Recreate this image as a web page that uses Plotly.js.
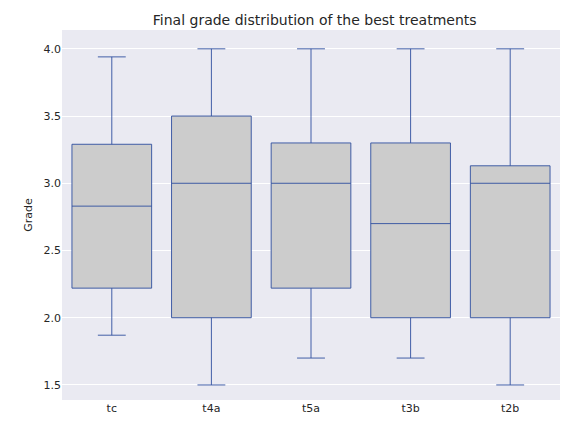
<!DOCTYPE html>
<html>
<head>
<script src="https://cdn.plot.ly/plotly-3.0.1.min.js"></script>
<style>body{margin:0}</style>
</head>
<body>
<div id="chart" style="width:567px;height:435px"></div>
<script>
var treatments = ["tc", "t4a", "t5a", "t3b", "t2b"];
var lowerWhisker = [1.87, 1.5, 1.7, 1.7, 1.5];
var q1 = [2.22, 2.0, 2.22, 2.0, 2.0];
var median = [2.83, 3.0, 3.0, 2.7, 3.0];
var q3 = [3.29, 3.5, 3.3, 3.3, 3.13];
var upperWhisker = [3.94, 4.0, 4.0, 4.0, 4.0];

var trace = {
  type: "box",
  x: treatments,
  q1: q1,
  median: median,
  q3: q3,
  lowerfence: lowerWhisker,
  upperfence: upperWhisker,
  width: 0.8,
  fillcolor: "#cccccc",
  line: {color: "#2f4f9f", width: 0.9},
  whiskerwidth: 0.35,
  boxpoints: false,
  hoverinfo: "none"
};

var layout = {
  width: 567, height: 435,
  margin: {l: 62, r: 7, t: 30, b: 35},
  paper_bgcolor: "white",
  plot_bgcolor: "#eaeaf2",
  font: {family: "DejaVu Sans", color: "#262626", size: 11},
  title: {text: "Final grade distribution of the best treatments", font: {size: 14}, x: 0.555, y: 0.965},
  showlegend: false,
  xaxis: {showgrid: false, zeroline: false, ticks: "", tickfont: {size: 11}, range: [-0.5, 4.5]},
  yaxis: {
    title: {text: "Grade", font: {size: 11}, standoff: 8},
    range: [1.388, 4.14], tickvals: [1.5, 2.0, 2.5, 3.0, 3.5, 4.0],
    ticktext: ["1.5", "2.0", "2.5", "3.0", "3.5", "4.0"],
    gridcolor: "white", gridwidth: 1, zeroline: false, ticks: ""
  }
};

Plotly.newPlot("chart", [trace], layout, {displayModeBar: false});
</script>
</body>
</html>
